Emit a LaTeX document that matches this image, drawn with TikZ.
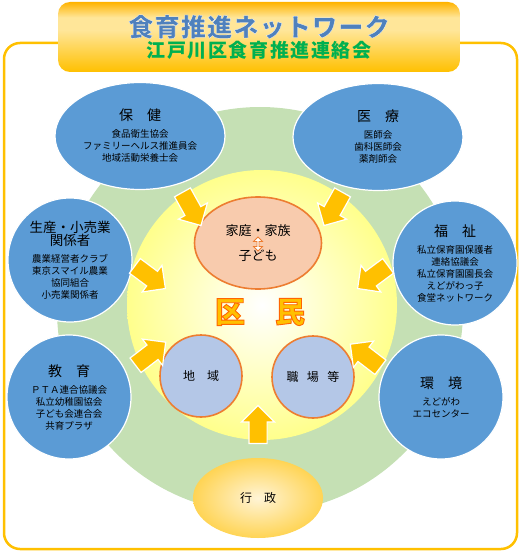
\documentclass[tikz,border=0pt]{standalone}
\usepackage{fontspec}
\setmainfont{Noto Sans CJK JP}
\usetikzlibrary{shapes.geometric,shapes.arrows}

\definecolor{framegold}{HTML}{FFC000}
\definecolor{titlelight}{HTML}{FFE699}
\definecolor{ringgreen}{HTML}{C5E0B4}
\definecolor{coreyellow}{HTML}{FFFF8C}
\definecolor{groupblue}{HTML}{5B9BD5}
\definecolor{homepink}{HTML}{F8CBAD}
\definecolor{edgeorange}{HTML}{ED7D31}
\definecolor{placeblue}{HTML}{B4C7E7}
\definecolor{titleblue}{HTML}{4F81BD}
\definecolor{titlegreen}{HTML}{00B050}
\definecolor{govlight}{HTML}{FFF4D6}
\definecolor{govgold}{HTML}{FFD454}

\pgfdeclareverticalshading{titleshade}{100bp}{color(0bp)=(framegold); color(25bp)=(framegold);
  color(55bp)=(titlelight); color(64bp)=(titlelight); color(75bp)=(framegold!80!orange); color(100bp)=(framegold!80!orange)}

\newcommand{\headtxt}[1]{{\fontsize{14}{16}\selectfont #1}\\[5pt]}
% stroke colour for outlined (FakeBold) text
\newcommand{\strokergb}[1]{\special{pdf:code #1 RG}}

\begin{document}
\begin{tikzpicture}[x=1pt, y=-1pt,
  groupnode/.style={circle, draw=white, line width=1.2pt, fill=groupblue, align=center, inner sep=0pt,
    minimum size=124pt, font=\fontsize{9.5}{12}\selectfont},
  groupoval/.style={groupnode, ellipse, minimum width=170pt, minimum height=107pt},
  placenode/.style={circle, draw=edgeorange, line width=1.6pt, fill=placeblue, minimum size=82pt,
    inner sep=0pt, font=\fontsize{12}{14}\selectfont},
  barrow/.style={single arrow, draw=white, line width=1.2pt, fill=framegold, minimum height=38pt,
    inner xsep=0pt, inner ysep=8.5pt, single arrow head extend=7.5pt},
  titlebox/.style={rounded corners=12pt, shading=titleshade, minimum width=402pt, minimum height=70pt,
    align=center, inner sep=0pt}
]
\useasboundingbox (0,0) rectangle (524,559);

% frame and rings
\draw[framegold, line width=2.5pt, rounded corners=16pt] (4,43) rectangle (517,549);
\fill[ringgreen] (260,310) circle (203);
\shade[inner color=white, outer color=coreyellow] (262,305) circle (135);

% title
\node[titlebox] (title) at (259,37) {%
  {\fontsize{25}{28}\selectfont\bfseries\addfontfeature{LetterSpace=5,FakeBold=1}\color{titleblue}\strokergb{1 1 1}食育推進ネットワーク}\\[1pt]
  {\fontsize{19}{22}\selectfont\bfseries\addfontfeature{LetterSpace=8}\color{titlegreen}江戸川区食育推進連絡会}};

% groups
\node[groupoval] (hoken) at (140,136) {\headtxt{保　健}食品衛生協会\\ファミリーヘルス推進員会\\地域活動栄養士会};
\node[groupoval] (iryo) at (378,137) {\headtxt{医　療}医師会\\歯科医師会\\薬剤師会};
\node[groupnode] (seisan) at (70,260) {{\fontsize{13.5}{16}\selectfont 生産・小売業}\\{\fontsize{13.5}{16}\selectfont 関係者}\\[5pt]農業経営者クラブ\\東京スマイル農業\\協同組合\\小売業関係者};
\node[groupnode] (fukushi) at (455,263) {\headtxt{福　祉}私立保育園保護者\\連絡協議会\\私立保育園園長会\\えどがわっ子\\食堂ネットワーク};
\node[groupnode] (kyoiku) at (69,397) {\headtxt{教　育}ＰＴＡ連合協議会\\私立幼稚園協会\\子ども会連合会\\共育プラザ};
\node[groupnode] (kankyo) at (441,397) {\headtxt{環　境}えどがわ\\エコセンター};

% residents
\node[ellipse, draw=edgeorange, line width=1.6pt, fill=homepink, minimum width=127pt, minimum height=92pt,
  align=center, font=\fontsize{13}{15}\selectfont] (katei) at (258,243) {家庭・家族\\[10pt]子ども};
\node[double arrow, rotate=90, draw=edgeorange, fill=white, line width=0.8pt, minimum height=14pt,
  minimum width=9pt, double arrow head extend=1.5pt, inner sep=0pt] (kateiarrow) at (258,244) {};
\node[text=framegold, font=\fontsize{30}{30}\selectfont\bfseries] (kumin) at (260,312)
  {\addfontfeature{FakeBold=3}\strokergb{1 0.4 0}区　民};
\node[placenode] (chiiki) at (201,376) {地　域};
\node[placenode] (shokuba) at (313,377) {職\hspace{0.7em}場\hspace{0.7em}等};
\node[ellipse, inner color=govlight, outer color=govgold, minimum width=130pt, minimum height=80pt,
  font=\fontsize{12}{14}\selectfont] (gyosei) at (258,498) {行　政};

% arrows
\coordinate (t1) at (180,188); \coordinate (h1) at (199,222);
\coordinate (t2) at (345,188); \coordinate (h2) at (326,222);
\coordinate (t3) at (131,263); \coordinate (h3) at (162,286);
\coordinate (t4) at (392,263); \coordinate (h4) at (361,286);
\coordinate (t5) at (132,368); \coordinate (h5) at (162,345);
\coordinate (t6) at (384,370); \coordinate (h6) at (354,347);
\coordinate (t7) at (258,448); \coordinate (h7) at (258,410);
\foreach \n in {1,...,7}
  \path (t\n) -- (h\n) node[barrow, midway, sloped, allow upside down] (arrow\n) {};
\end{tikzpicture}
\end{document}
